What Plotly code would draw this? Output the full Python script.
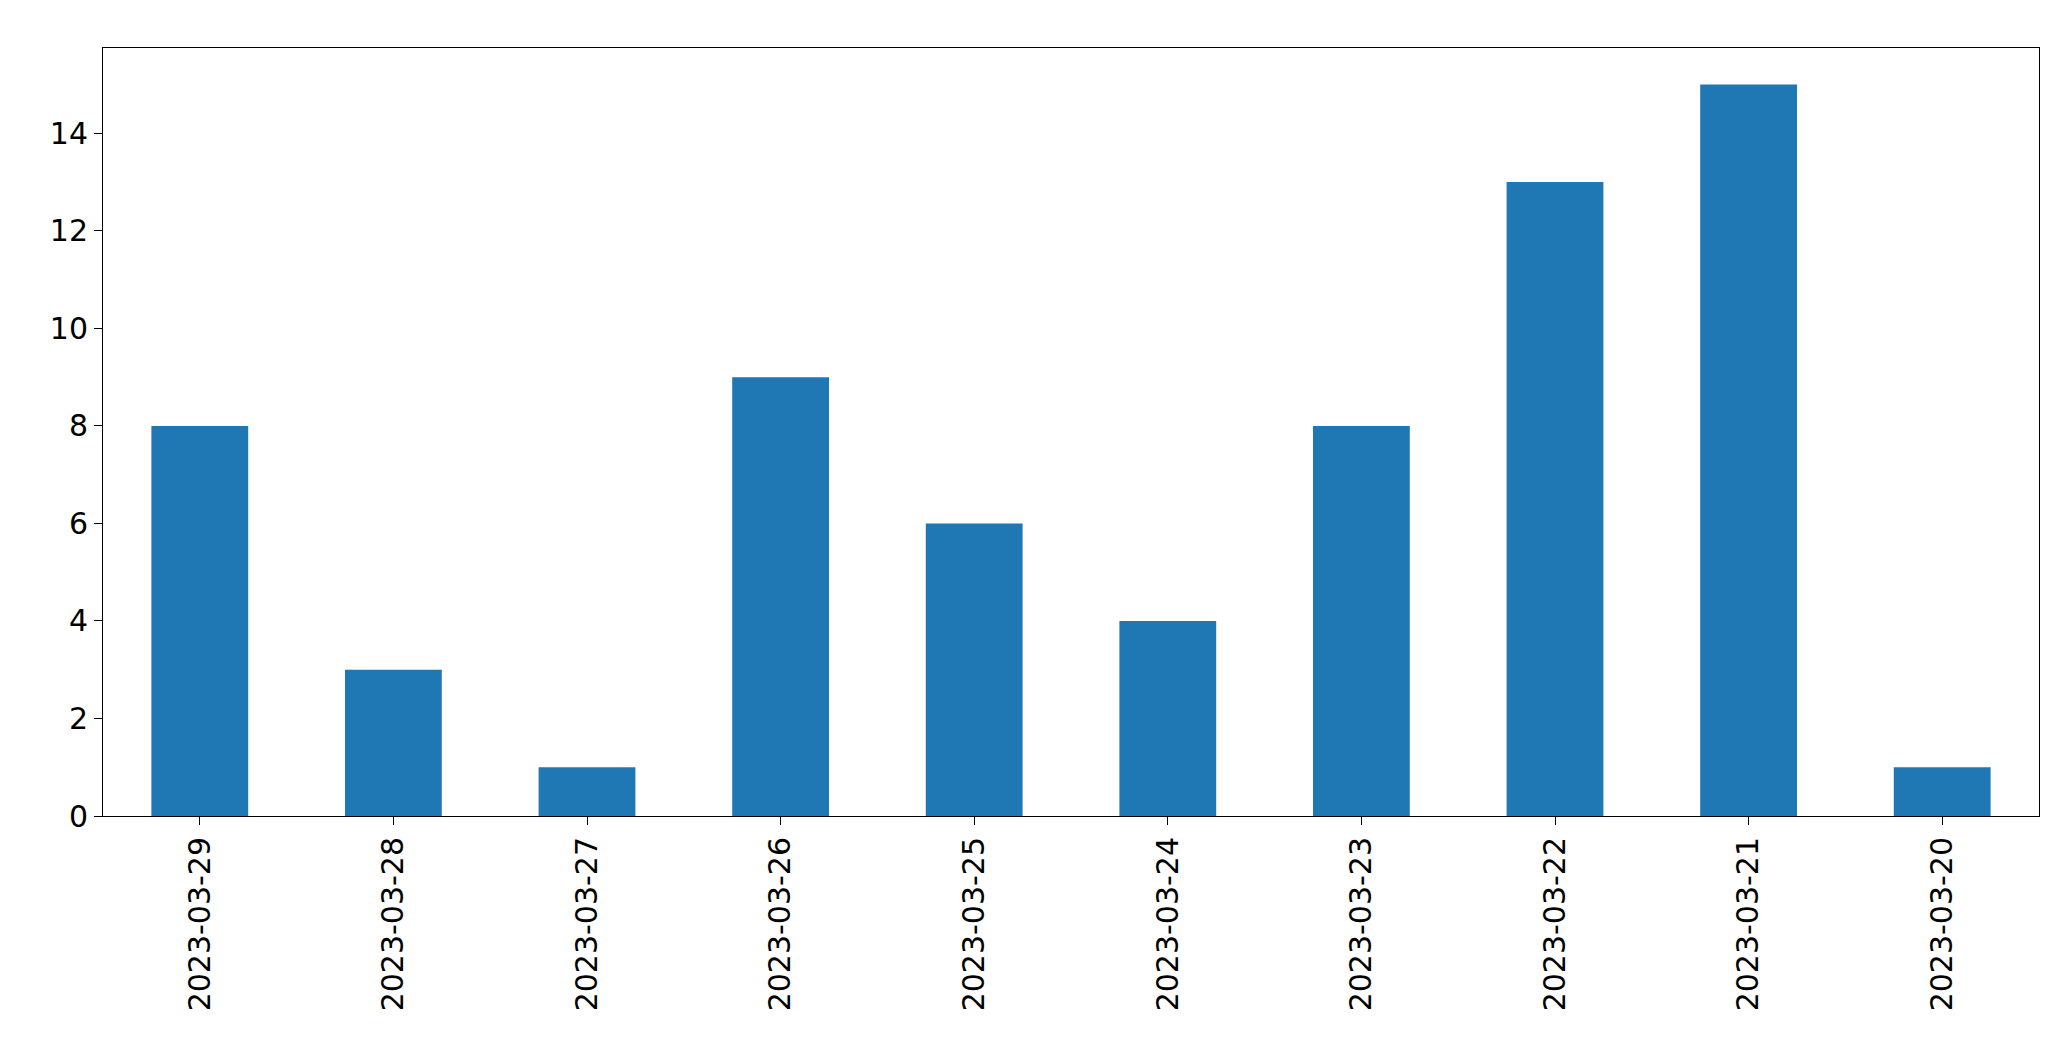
import plotly.graph_objects as go

dates = ["2023-03-29","2023-03-28","2023-03-27","2023-03-26","2023-03-25",
         "2023-03-24","2023-03-23","2023-03-22","2023-03-21","2023-03-20"]
counts = [8, 3, 1, 9, 6, 4, 8, 13, 15, 1]

fig = go.Figure(go.Bar(x=dates, y=counts, width=0.5, marker_color="#1f77b4", marker_line_width=0))
fig.update_layout(
    width=2071, height=1061, plot_bgcolor="white", paper_bgcolor="white",
    margin=dict(l=95, r=40, t=40, b=253), showlegend=False,
    font=dict(family="DejaVu Sans", size=30, color="black"),
)
fig.update_xaxes(type="category", range=[-0.5, 9.5], tickangle=-90, showline=True, mirror=True,
                 linecolor="black", linewidth=1, ticks="outside", ticklen=8, tickcolor="black",
                 showgrid=False)
fig.update_yaxes(range=[0, 15.75], dtick=2, showline=True, mirror=True, linecolor="black",
                 linewidth=1, ticks="outside", ticklen=8, tickcolor="black", showgrid=False,
                 zeroline=False)
fig.write_html("out.html")
